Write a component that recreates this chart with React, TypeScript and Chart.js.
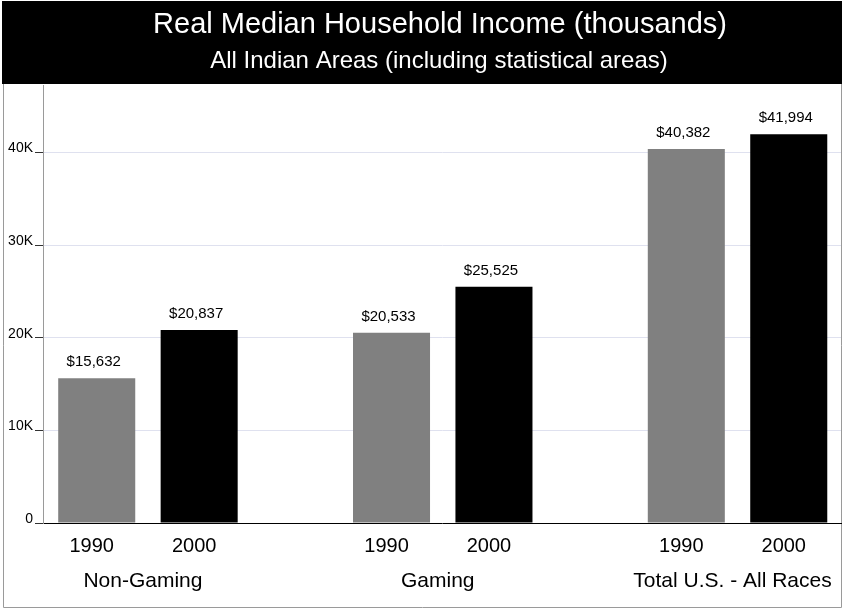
import React, { useEffect, useRef } from "react";
import { Chart, registerables } from "chart.js";

Chart.register(...registerables);

const groups = ["Non-Gaming", "Gaming", "Total U.S. - All Races"];
const groupPos = [0, 1, 2];
const years = ["1990", "2000"];
const values1990 = [15632, 20533, 40382];
const values2000 = [20837, 25525, 41994];
const yTicks = [0, 10000, 20000, 30000, 40000];
const titleText = "Real Median Household Income (thousands)";
const subtitleText = "All Indian Areas (including statistical areas)";

const FONT = "'Liberation Sans', Arial, Helvetica, sans-serif";

const fmt = (v: number) => "$" + v.toLocaleString("en-US");

const framePlugin = {
  id: "frame",
  beforeDraw(chart: any) {
    const ctx = chart.ctx;
    ctx.save();
    ctx.fillStyle = "#ffffff";
    ctx.fillRect(0, 0, chart.width, chart.height);
    ctx.fillStyle = "#000000";
    ctx.fillRect(2, 1, 840, 83);
    ctx.strokeStyle = "#9a9a9a";
    ctx.lineWidth = 1;
    ctx.beginPath();
    ctx.moveTo(3.5, 84);
    ctx.lineTo(3.5, 607.5);
    ctx.lineTo(841.5, 607.5);
    ctx.lineTo(841.5, 84);
    ctx.stroke();
    ctx.fillStyle = "#ffffff";
    ctx.textAlign = "center";
    ctx.textBaseline = "alphabetic";
    ctx.font = "29px " + FONT;
    ctx.fillText(titleText, 440, 33);
    ctx.font = "24px " + FONT;
    ctx.fillText(subtitleText, 439, 68);
    ctx.restore();
  },
};

const labelPlugin = {
  id: "barLabels",
  afterDatasetsDraw(chart: any) {
    const ctx = chart.ctx;
    ctx.save();
    ctx.fillStyle = "#000000";
    ctx.textAlign = "center";
    ctx.textBaseline = "alphabetic";
    chart.data.datasets.forEach((ds: any, di: number) => {
      const meta = chart.getDatasetMeta(di);
      meta.data.forEach((bar: any, i: number) => {
        ctx.font = "15px " + FONT;
        ctx.fillText(fmt(ds.data[i].y), bar.x - 3, bar.y - 12);
        ctx.font = "20px " + FONT;
        ctx.fillText(years[di], bar.x - 5, 552);
      });
    });
    const xs = chart.scales.x;
    ctx.font = "21px " + FONT;
    groups.forEach((g, i) => {
      ctx.fillText(g, xs.getPixelForValue(groupPos[i]) - 5, 587);
    });
    ctx.restore();
  },
};

export default function App() {
  const ref = useRef<HTMLCanvasElement>(null);
  useEffect(() => {
    if (!ref.current) return;
    const chart = new Chart(ref.current, {
      type: "bar",
      data: {
        datasets: [
          {
            label: years[0],
            data: groupPos.map((x, i) => ({ x, y: values1990[i] })),
            backgroundColor: "#808080",
          },
          {
            label: years[1],
            data: groupPos.map((x, i) => ({ x, y: values2000[i] })),
            backgroundColor: "#000000",
          },
        ],
      },
      options: {
        responsive: false,
        animation: false,
        layout: { padding: { left: 0, top: 85, right: 3, bottom: 0 } },
        categoryPercentage: 0.695,
        barPercentage: 0.752,
        plugins: {
          legend: { display: false },
          tooltip: { enabled: false },
          title: { display: false },
        },
        scales: {
          x: {
            type: "linear",
            offset: false,
            min: -0.356,
            max: 2.351,
            afterBuildTicks: (s: any) => {
              s.ticks = groupPos.map((v) => ({ value: v }));
            },
            afterFit: (s: any) => {
              s.height = 88;
            },
            ticks: { display: false },
            grid: { display: false, offset: false },
            border: { display: true, color: "#000000", width: 1 },
          },
          y: {
            min: 0,
            max: 47300,
            afterBuildTicks: (s: any) => {
              s.ticks = yTicks.map((v) => ({ value: v }));
            },
            afterFit: (s: any) => {
              s.width = 43;
            },
            ticks: {
              callback: (v: any) => (v === 0 ? "0" : v / 1000 + "K"),
              color: "#000000",
              font: { family: FONT, size: 14 },
              padding: 2,
              labelOffset: -4,
            },
            grid: {
              color: (c: any) => (c.tick && c.tick.value === 0 ? "rgba(0,0,0,0)" : "#dfe1ef"),
              tickColor: "#333333",
              tickLength: 8,
              lineWidth: 1,
            },
            border: { display: true, color: "#9a9a9a", width: 1 },
          },
        },
      },
      plugins: [framePlugin, labelPlugin],
    } as any);
    return () => chart.destroy();
  }, []);
  return (
    <div style={{ position: "absolute", left: 0, top: 0, width: 844, height: 611 }}>
      <canvas ref={ref} width={844} height={611} />
    </div>
  );
}
